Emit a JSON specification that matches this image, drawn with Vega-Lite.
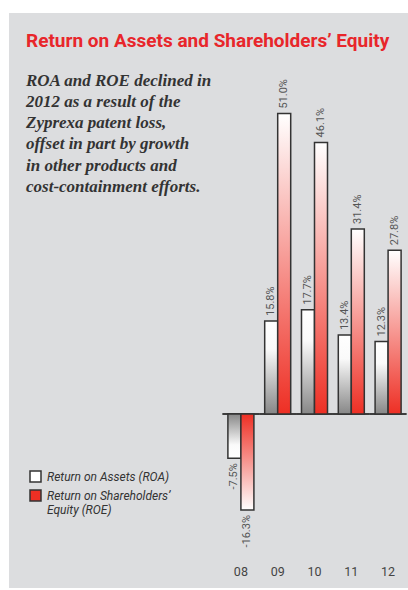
{
  "$schema": "https://vega.github.io/schema/vega-lite/v6.json",
  "width": 399,
  "height": 575,
  "autosize": {"type": "none"},
  "padding": {"left": 9, "top": 13, "right": 0, "bottom": 2},
  "background": "#ffffff",
  "title": {
    "text": "Return on Assets and Shareholders’ Equity",
    "subtitle": ["ROA and ROE declined in", "2012 as a result of the", "Zyprexa patent loss,", "offset in part by growth", "in other products and", "cost-containment efforts."],
    "anchor": "start",
    "frame": "group",
    "orient": "top",
    "offset": 0,
    "dx": 17,
    "dy": 182,
    "font": "Roboto",
    "fontSize": 19,
    "fontWeight": "bold",
    "color": "#e8262b",
    "subtitleFont": "Liberation Serif",
    "subtitleFontSize": 17,
    "subtitleFontStyle": "italic",
    "subtitleFontWeight": "bold",
    "subtitleColor": "#333333",
    "subtitleLineHeight": 21.3,
    "subtitlePadding": 22
  },
  "data": {
    "values": [
      {"year": "08", "series": "ROA", "value": -7.5, "label": "-7.5%"},
      {"year": "08", "series": "ROE", "value": -16.3, "label": "-16.3%"},
      {"year": "09", "series": "ROA", "value": 15.8, "label": "15.8%"},
      {"year": "09", "series": "ROE", "value": 51.0, "label": "51.0%"},
      {"year": "10", "series": "ROA", "value": 17.7, "label": "17.7%"},
      {"year": "10", "series": "ROE", "value": 46.1, "label": "46.1%"},
      {"year": "11", "series": "ROA", "value": 13.4, "label": "13.4%"},
      {"year": "11", "series": "ROE", "value": 31.4, "label": "31.4%"},
      {"year": "12", "series": "ROA", "value": 12.3, "label": "12.3%"},
      {"year": "12", "series": "ROE", "value": 27.8, "label": "27.8%"}
    ]
  },
  "layer": [
    {
      "mark": {"type": "bar", "fill": null, "stroke": "#333333", "strokeWidth": 1.5},
      "encoding": {
        "x": {"field": "year", "type": "ordinal", "scale": {"range": [213.5, 397.5], "paddingInner": 0, "paddingOuter": 0},
              "axis": {"orient": "bottom", "offset": -23, "ticks": false, "domain": false, "labelPadding": 0, "labelAngle": 0, "title": null, "labelFont": "Roboto", "labelFontSize": 12.5, "labelColor": "#444444", "grid": false}},
        "y": {"datum": 0, "type": "quantitative", "scale": {"domain": [-29.54, 68.08], "nice": false, "zero": false}, "axis": null},
        "y2": {"datum": 0}
      }
    },
    {
      "transform": [{"filter": "datum.series == 'ROA' && datum.value >= 0"}],
      "mark": {"type": "bar", "stroke": "#333333", "strokeWidth": 1.5,
               "fill": {"gradient": "linear", "x1": 0, "y1": 0, "x2": 0, "y2": 1, "stops": [{"offset": 0, "color": "#ffffff"}, {"offset": 0.3, "color": "#fafafa"}, {"offset": 1, "color": "#878787"}]}},
      "encoding": {
        "x": {"field": "year", "type": "ordinal"},
        "xOffset": {"field": "series", "type": "nominal", "scale": {"domain": ["ROA", "ROE"], "paddingInner": 0, "paddingOuter": 0.415}},
        "y": {"field": "value", "type": "quantitative"}
      }
    },
    {
      "transform": [{"filter": "datum.series == 'ROE' && datum.value >= 0"}],
      "mark": {"type": "bar", "stroke": "#333333", "strokeWidth": 1.5,
               "fill": {"gradient": "linear", "x1": 0, "y1": 0, "x2": 0, "y2": 1, "stops": [{"offset": 0, "color": "#ffffff"}, {"offset": 1, "color": "#ee2f24"}]}},
      "encoding": {
        "x": {"field": "year", "type": "ordinal"},
        "xOffset": {"field": "series", "type": "nominal"},
        "y": {"field": "value", "type": "quantitative"}
      }
    },
    {
      "transform": [{"filter": "datum.series == 'ROA' && datum.value < 0"}],
      "mark": {"type": "bar", "stroke": "#333333", "strokeWidth": 1.5,
               "fill": {"gradient": "linear", "x1": 0, "y1": 1, "x2": 0, "y2": 0, "stops": [{"offset": 0, "color": "#ffffff"}, {"offset": 0.3, "color": "#fafafa"}, {"offset": 1, "color": "#878787"}]}},
      "encoding": {
        "x": {"field": "year", "type": "ordinal"},
        "xOffset": {"field": "series", "type": "nominal"},
        "y": {"field": "value", "type": "quantitative"}
      }
    },
    {
      "transform": [{"filter": "datum.series == 'ROE' && datum.value < 0"}],
      "mark": {"type": "bar", "stroke": "#333333", "strokeWidth": 1.5,
               "fill": {"gradient": "linear", "x1": 0, "y1": 1, "x2": 0, "y2": 0, "stops": [{"offset": 0, "color": "#ffffff"}, {"offset": 1, "color": "#ee2f24"}]}},
      "encoding": {
        "x": {"field": "year", "type": "ordinal"},
        "xOffset": {"field": "series", "type": "nominal"},
        "y": {"field": "value", "type": "quantitative"}
      }
    },
    {
      "transform": [{"filter": "datum.value >= 0"}],
      "mark": {"type": "text", "angle": 270, "align": "left", "baseline": "middle", "dx": 5, "font": "Roboto", "fontSize": 11, "color": "#555555"},
      "encoding": {
        "x": {"field": "year", "type": "ordinal"},
        "xOffset": {"field": "series", "type": "nominal"},
        "y": {"field": "value", "type": "quantitative"},
        "text": {"field": "label"}
      }
    },
    {
      "transform": [{"filter": "datum.value < 0"}],
      "mark": {"type": "text", "angle": 270, "align": "right", "baseline": "middle", "dx": -5, "font": "Roboto", "fontSize": 11, "color": "#555555"},
      "encoding": {
        "x": {"field": "year", "type": "ordinal"},
        "xOffset": {"field": "series", "type": "nominal"},
        "y": {"field": "value", "type": "quantitative"},
        "text": {"field": "label"}
      }
    },
    {
      "mark": {"type": "square", "opacity": 0, "filled": true, "stroke": "#333333", "strokeWidth": 1.5},
      "encoding": {
        "x": {"field": "year", "type": "ordinal"},
        "xOffset": {"field": "series", "type": "nominal"},
        "y": {"field": "value", "type": "quantitative"},
        "color": {"field": "series", "type": "nominal",
                  "scale": {"domain": ["ROA", "ROE"], "range": ["#ffffff", "#ee2f24"]},
                  "legend": {"orient": "none", "legendX": 20, "legendY": 457, "title": null, "padding": 0,
                             "symbolType": "square", "symbolSize": 121, "symbolOpacity": 1, "symbolStrokeColor": "#333333", "symbolStrokeWidth": 1.5,
                             "labelFont": "Roboto", "labelFontStyle": "italic", "labelFontSize": 12, "labelColor": "#333333", "labelOffset": 5, "labelLimit": 300,
                             "labelExpr": "datum.value == 'ROA' ? 'Return on Assets (ROA)' : ['Return on Shareholders’', 'Equity (ROE)']"}}
      }
    }
  ],
  "config": {
    "view": {"fill": "#dcdddf", "stroke": null}
  }
}
